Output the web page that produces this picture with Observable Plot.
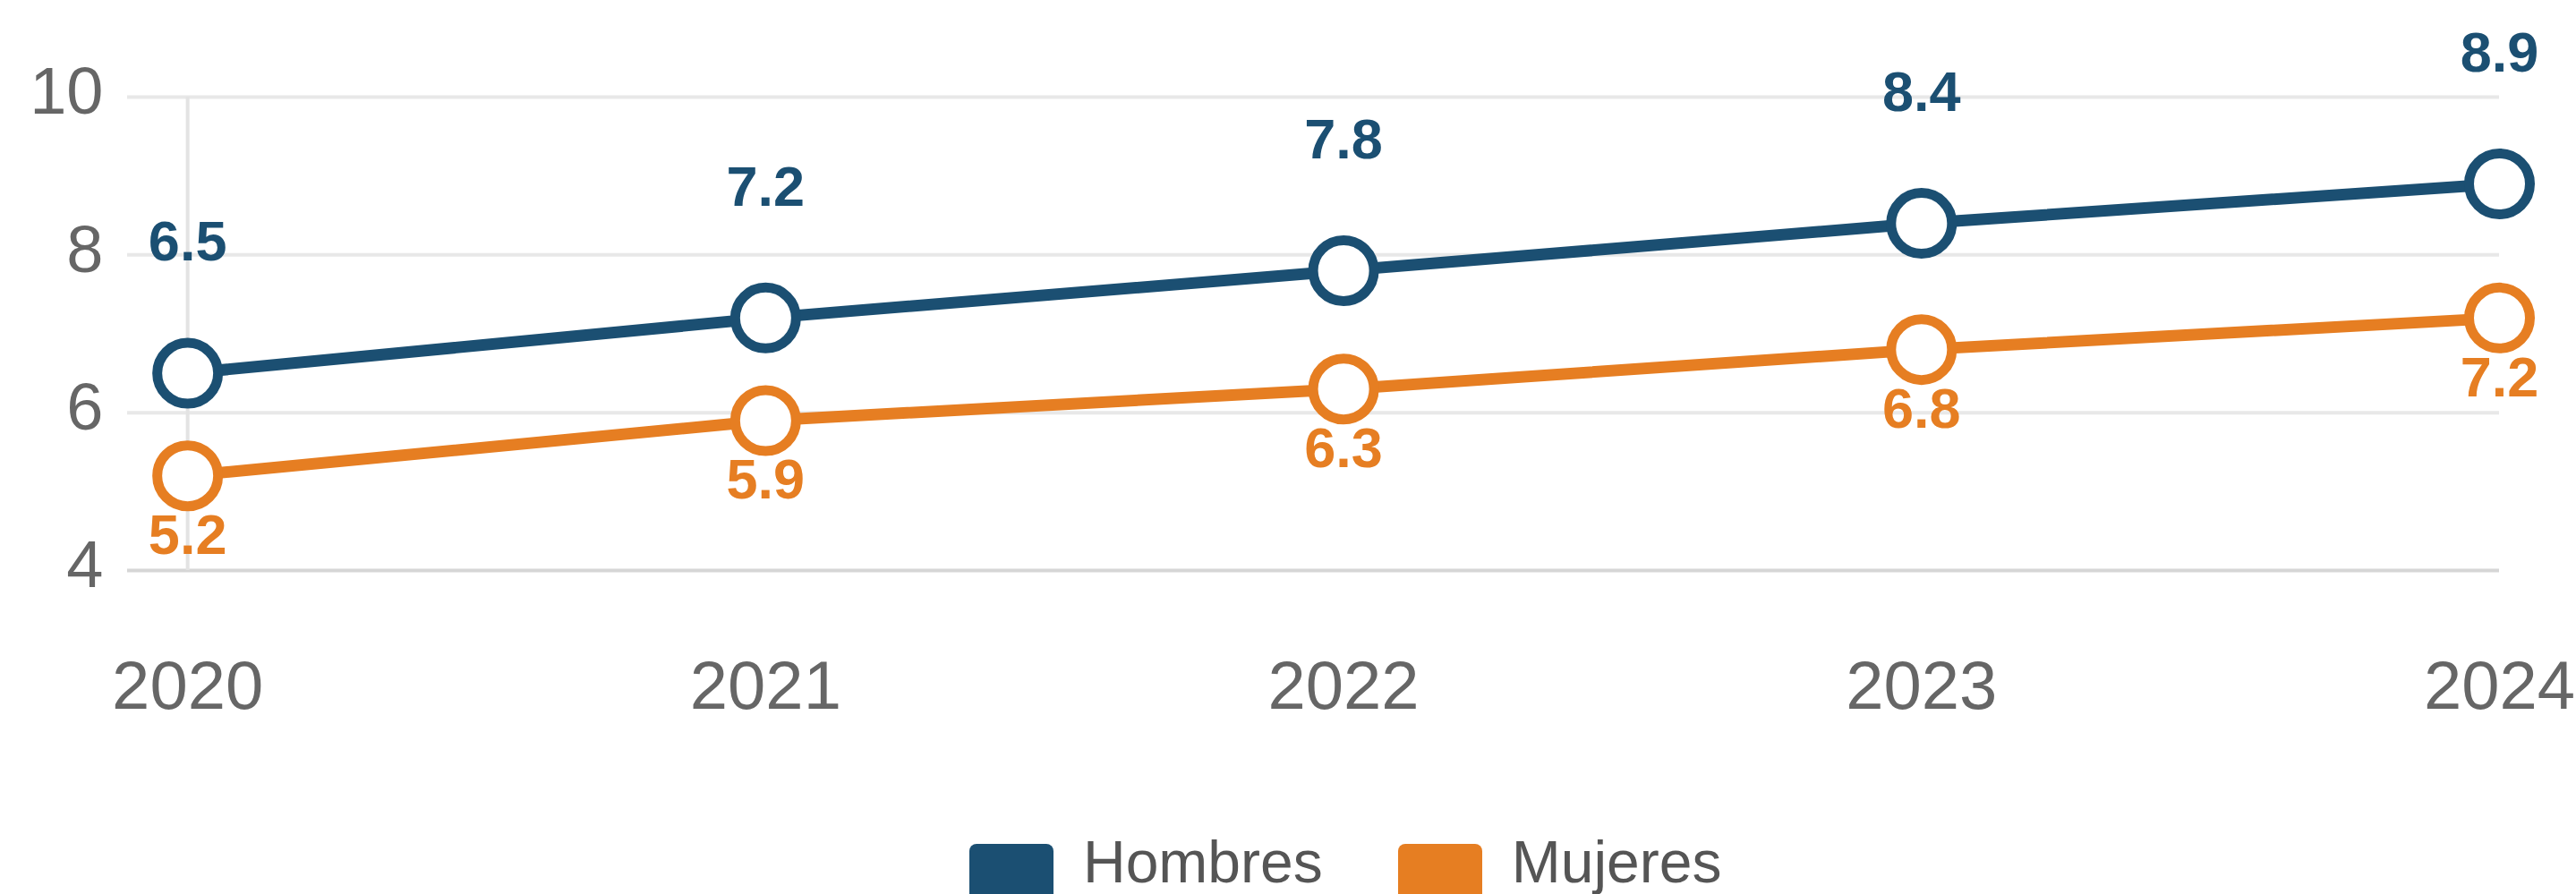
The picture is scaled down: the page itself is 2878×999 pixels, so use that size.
<!DOCTYPE html>
<html>
<head>
<meta charset="utf-8">
<script src="https://cdn.jsdelivr.net/npm/d3@7"></script>
<script src="https://cdn.jsdelivr.net/npm/@observablehq/plot@0.6"></script>
<style>
  html, body { margin: 0; padding: 0; background: #fff; overflow: hidden; }
  #wrap { position: relative; width: 2878px; height: 999px; }
  #legend { position: absolute; left: 1083px; top: 930px; display: flex; align-items: flex-start;
            font-family: "Liberation Sans", Arial, sans-serif; font-size: 66px; color: #555; }
  .item { display: flex; align-items: flex-start; margin-right: 84px; }
  .sw { width: 94px; height: 56px; border-radius: 8px 8px 0 0; margin-top: 13px; margin-right: 33px; }
  .lab { line-height: 1; }
</style>
</head>
<body>
<div id="wrap">
  <div id="chart"></div>
  <div id="legend"></div>
</div>
<script>
const years = [2020, 2021, 2022, 2023, 2024];
const hombres = [6.5, 7.2, 7.8, 8.4, 8.9];
const mujeres = [5.2, 5.9, 6.3, 6.8, 7.2];
const seriesNames = ["Hombres", "Mujeres"];
const seriesColors = ["#1B4F72", "#E67E22"];
const yTicks = [4, 6, 8, 10];

const data = [
  ...years.map((y, i) => ({year: y, value: hombres[i], series: "Hombres"})),
  ...years.map((y, i) => ({year: y, value: mujeres[i], series: "Mujeres"}))
];
const dH = data.filter(d => d.series === "Hombres");
const dM = data.filter(d => d.series === "Mujeres");

const H = 880;
const chart = Plot.plot({
  width: 2878,
  height: H,
  marginLeft: 142,
  marginRight: 86,
  marginTop: 108,
  marginBottom: H - 637,
  style: {fontFamily: '"Liberation Sans", Arial, sans-serif', fontSize: "76px", color: "#666", background: "#fff"},
  x: {type: "linear", domain: [2019.896, 2024]},
  y: {domain: [4, 10]},
  color: {domain: seriesNames, range: seriesColors},
  marks: [
    Plot.ruleY(yTicks, {stroke: d => d === 4 ? "#d6d6d6" : "#e8e8e8", strokeWidth: 4}),
    Plot.ruleX([years[0]], {y1: 4, y2: 10, stroke: "#e3e3e3", strokeWidth: 4}),
    Plot.axisX({ticks: years, tickFormat: d => String(d), tickSize: 0, tickPadding: 101, label: null, fill: "#666", fontSize: 76}),
    Plot.axisY({ticks: yTicks, tickFormat: d => String(d), tickSize: 0, tickPadding: 27, label: null, fill: "#666", fontSize: 74, dy: -5}),
    Plot.line(data, {x: "year", y: "value", stroke: "series", z: "series", strokeWidth: 13}),
    Plot.dot(data, {x: "year", y: "value", stroke: "series", fill: "#fff", r: 34, strokeWidth: 11}),
    Plot.text(dH, {x: "year", y: "value", text: d => d.value.toFixed(1), dy: -146, fill: seriesColors[0], fontWeight: "bold", fontSize: 63, lineAnchor: "middle"}),
    Plot.text(dM, {x: "year", y: "value", text: d => d.value.toFixed(1), dy: 67, fill: seriesColors[1], fontWeight: "bold", fontSize: 63, lineAnchor: "middle"})
  ]
});
document.getElementById("chart").appendChild(chart);

const legend = document.getElementById("legend");
seriesNames.forEach((name, i) => {
  const item = document.createElement("div");
  item.className = "item";
  const sw = document.createElement("div");
  sw.className = "sw";
  sw.style.background = seriesColors[i];
  const lab = document.createElement("div");
  lab.className = "lab";
  lab.textContent = name;
  item.appendChild(sw);
  item.appendChild(lab);
  legend.appendChild(item);
});
</script>
</body>
</html>
